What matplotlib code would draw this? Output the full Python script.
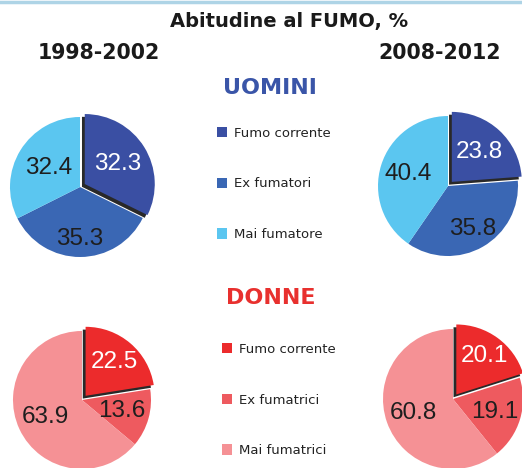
import numpy as np
import matplotlib.pyplot as plt
import matplotlib.patheffects as pe
from matplotlib.patches import Patch

W, H = 522, 468

categorie_u = ["Fumo corrente", "Ex fumatori", "Mai fumatore"]
categorie_d = ["Fumo corrente", "Ex fumatrici", "Mai fumatrici"]
uomini_1998 = [32.3, 35.3, 32.4]
uomini_2008 = [23.8, 35.8, 40.4]
donne_1998 = [22.5, 13.6, 63.9]
donne_2008 = [20.1, 19.1, 60.8]

colori_u = ["#3a4fa3", "#3a67b4", "#5bc6f0"]
colori_d = ["#ec2b2c", "#ee5a5f", "#f59195"]
testo_u = ["white", "#1e1e1e", "#1e1e1e"]
testo_d = ["white", "#1e1e1e", "#1e1e1e"]

fig = plt.figure(figsize=(W / 100, H / 100), dpi=100)
fig.patch.set_facecolor("white")

# linea azzurra in alto
fig.add_artist(plt.Line2D([0, 1], [1 - 1.5 / H, 1 - 1.5 / H], color="#aed4e6", lw=2.5))


def torta(cx, cy, r, valori, colori, col_testo, dist):
    # cx, cy in pixel (y dall'alto), r raggio in pixel
    lim = 1.3
    lato = 2 * r * lim
    ax = fig.add_axes([(cx - lato / 2) / W, (H - cy - lato / 2) / H, lato / W, lato / H])
    wedges, texts = ax.pie(valori, colors=colori, startangle=90, counterclock=False,
                           explode=[0.08, 0, 0], labeldistance=None, radius=1)
    wedges[0].set_path_effects([pe.SimplePatchShadow(offset=(-2, -2), shadow_rgbFace="#111111", alpha=0.9),
                                pe.Normal()])
    for w, v, c, d in zip(wedges, valori, col_testo, dist):
        ang = np.deg2rad((w.theta1 + w.theta2) / 2)
        x0, y0 = w.center
        ax.text(x0 + d * np.cos(ang), y0 + d * np.sin(ang), f"{v:.1f}", ha="center", va="center",
                color=c, fontsize=17.5, family="Liberation Sans")
    ax.set_xlim(-lim, lim)
    ax.set_ylim(-lim, lim)
    ax.set_aspect("equal")
    ax.axis("off")
    return ax


torta(80, 187, 70, uomini_1998, colori_u, testo_u, [0.55, 0.74, 0.52])
torta(448, 186, 70, uomini_2008, colori_u, testo_u, [0.58, 0.71, 0.59])
torta(82, 400, 69, donne_1998, colori_d, testo_d, [0.65, 0.6, 0.59])
torta(453, 399, 70, donne_2008, colori_d, testo_d, [0.68, 0.62, 0.6])

# titoli
fig.text(289 / W, 1 - 22 / H, "Abitudine al FUMO, %", ha="center", va="center",
         fontsize=14, fontweight="bold", color="#1a1a1a")
fig.text(99 / W, 1 - 53 / H, "1998-2002", ha="center", va="center",
         fontsize=14.8, fontweight="bold", color="#1a1a1a")
fig.text(440 / W, 1 - 53 / H, "2008-2012", ha="center", va="center",
         fontsize=14.8, fontweight="bold", color="#1a1a1a")
fig.text(270 / W, 1 - 88 / H, "UOMINI", ha="center", va="center",
         fontsize=16, fontweight="bold", color="#3a55a8")
fig.text(271 / W, 1 - 298 / H, "DONNE", ha="center", va="center",
         fontsize=16, fontweight="bold", color="#e8302e")

# legende
h_u = [Patch(facecolor=c) for c in colori_u]
fig.legend(h_u, categorie_u, loc="center left", bbox_to_anchor=(205 / W, 1 - 184 / H),
           frameon=False, fontsize=9.5, handlelength=0.8, handleheight=0.8,
           handletextpad=0.5, labelspacing=2.85, labelcolor="#222222")
h_d = [Patch(facecolor=c) for c in colori_d]
fig.legend(h_d, categorie_d, loc="center left", bbox_to_anchor=(210 / W, 1 - 400 / H),
           frameon=False, fontsize=9.5, handlelength=0.8, handleheight=0.8,
           handletextpad=0.5, labelspacing=2.85, labelcolor="#222222")

fig.savefig("out.png", dpi=100)
